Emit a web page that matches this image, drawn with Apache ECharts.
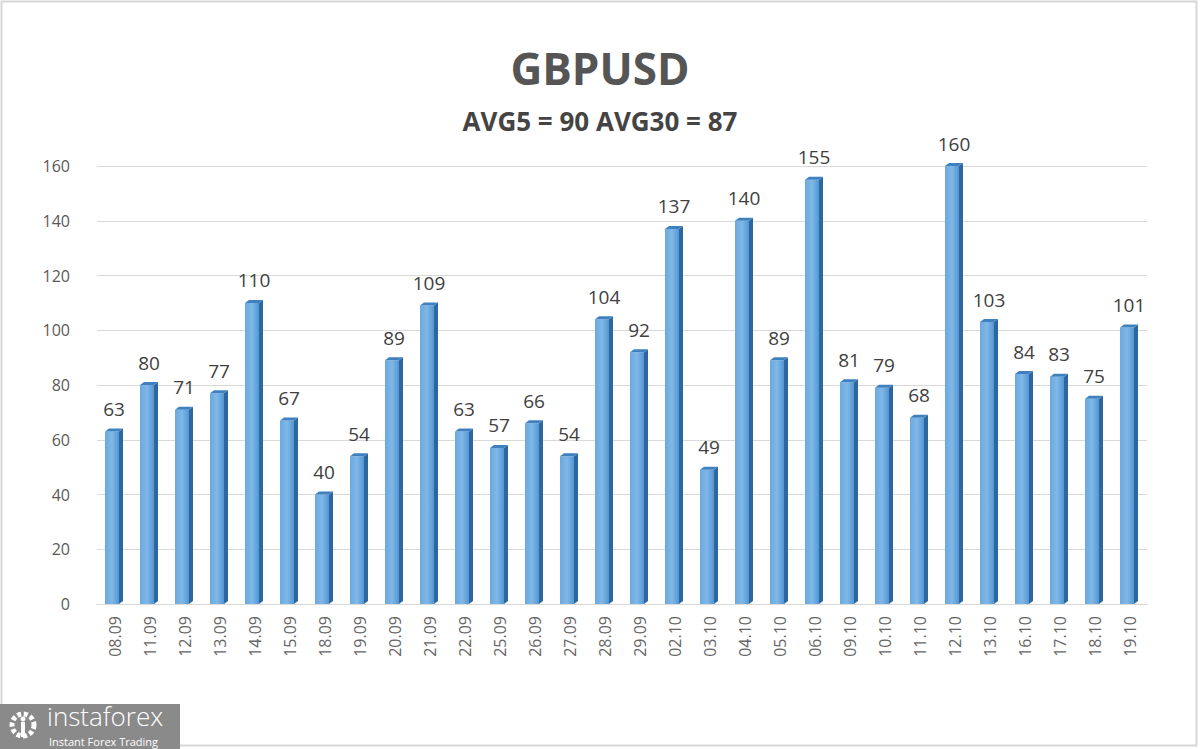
<!DOCTYPE html>
<html>
<head>
<meta charset="utf-8">
<script src="https://cdn.jsdelivr.net/npm/echarts@6/dist/echarts.min.js"></script>
<style>
html,body{margin:0;padding:0;background:#fff;}
#c{width:1200px;height:749px;}
</style>
</head>
<body>
<div id="c"></div>
<script>
const titleText = 'GBPUSD';
const subtitleText = 'AVG5 = 90 AVG30 = 87';
const categories = ['08.09','11.09','12.09','13.09','14.09','15.09','18.09','19.09','20.09','21.09','22.09','25.09','26.09','27.09','28.09','29.09','02.10','03.10','04.10','05.10','06.10','09.10','10.10','11.10','12.10','13.10','16.10','17.10','18.10','19.10'];
const values = [63,80,71,77,110,67,40,54,89,109,63,57,66,54,104,92,137,49,140,89,155,81,79,68,160,103,84,83,75,101];
const yTicks = [0,20,40,60,80,100,120,140,160];

const chart = echarts.init(document.getElementById('c'), null, {renderer:'svg'});
const FONT = '"Open Sans", "Noto Sans", sans-serif';

function renderBar(params, api){
  const idx = api.value(0);
  const v = api.value(1);
  const top = api.coord([idx, v]);
  const base = api.coord([idx, 0]);
  const w = 14, d = 4, dy = 3;
  const left = top[0] - 9.5;
  const h = base[1] - top[1];
  return {
    type: 'group',
    children: [
      {type:'polygon', shape:{points:[[left+w, top[1]],[left+w+d, top[1]-dy],[left+w+d, base[1]-dy],[left+w, base[1]]]},
        style:{fill:'#2c679f'}},
      {type:'rect', shape:{x:left, y:top[1], width:w, height:h},
        style:{fill:new echarts.graphic.LinearGradient(0,0,1,0,[{offset:0,color:'#6aa9df'},{offset:0.5,color:'#80b8e7'},{offset:1,color:'#5496d3'}])}},
      {type:'polygon', shape:{points:[[left, top[1]],[left+d, top[1]-dy],[left+w+d, top[1]-dy],[left+w, top[1]]]},
        style:{fill:'#3f80bf'}},
      {type:'text', style:{text:String(v), x:left+(w+d)/2, y:top[1]-13, textAlign:'center', textVerticalAlign:'bottom',
        fill:'#404040', font:'19px ' + FONT}}
    ]
  };
}

const option = {
  backgroundColor:'#fff',
  animation:false,
  title:[
    {text:titleText, left:'center', top:41, textStyle:{fontFamily:FONT, fontSize:44, fontWeight:'bold', color:'#555555'}},
    {text:subtitleText, left:'center', top:103, textStyle:{fontFamily:FONT, fontSize:26, fontWeight:'bold', color:'#444444'}}
  ],
  grid:{left:97, right:53, top:166, bottom:145, containLabel:false},
  xAxis:{
    type:'category', data:categories, boundaryGap:true,
    axisLine:{show:true, lineStyle:{color:'#d9d9d9'}},
    axisTick:{show:false},
    axisLabel:{rotate:90, margin:12, color:'#666666', fontFamily:FONT, fontSize:16, interval:0}
  },
  yAxis:{
    type:'value', min:yTicks[0], max:yTicks[yTicks.length-1], interval:20,
    axisLine:{show:false}, axisTick:{show:false},
    splitLine:{lineStyle:{color:'#d9d9d9', width:1}},
    axisLabel:{color:'#595959', fontFamily:FONT, fontSize:16, margin:27}
  },
  series:[{
    type:'custom',
    renderItem: renderBar,
    data: values.map((v,i)=>[i,v]),
    encode:{x:0, y:1}
  }],
  graphic:[
    {type:'rect', shape:{x:1.5, y:1.5, width:1195, height:744}, style:{fill:'none', stroke:'#d6d6d6', lineWidth:2}, z:-1},
    {type:'rect', shape:{x:0, y:704, width:180, height:45}, style:{fill:'#8a8a8a'}},
    {type:'circle', shape:{cx:23, cy:725, r:11}, style:{fill:'none', stroke:'#fff', lineWidth:5, lineDash:[4,2.5]}},
    {type:'circle', shape:{cx:23, cy:725, r:6}, style:{fill:'#8a8a8a'}},
    {type:'rect', shape:{x:21, y:722, width:4, height:15}, style:{fill:'#fff'}},
    {type:'circle', shape:{cx:23, cy:719, r:2.5}, style:{fill:'#fff'}},
    {type:'text', style:{text:'instaforex', x:47, y:716, textVerticalAlign:'middle', fill:'#fff', font:'300 26px ' + FONT, lineHeight:26}},
    {type:'text', style:{text:'Instant Forex Trading', x:49, y:741, textVerticalAlign:'middle', fill:'#fff', font:'11px ' + FONT, lineHeight:12}}
  ]
};
chart.setOption(option);
</script>
</body>
</html>
